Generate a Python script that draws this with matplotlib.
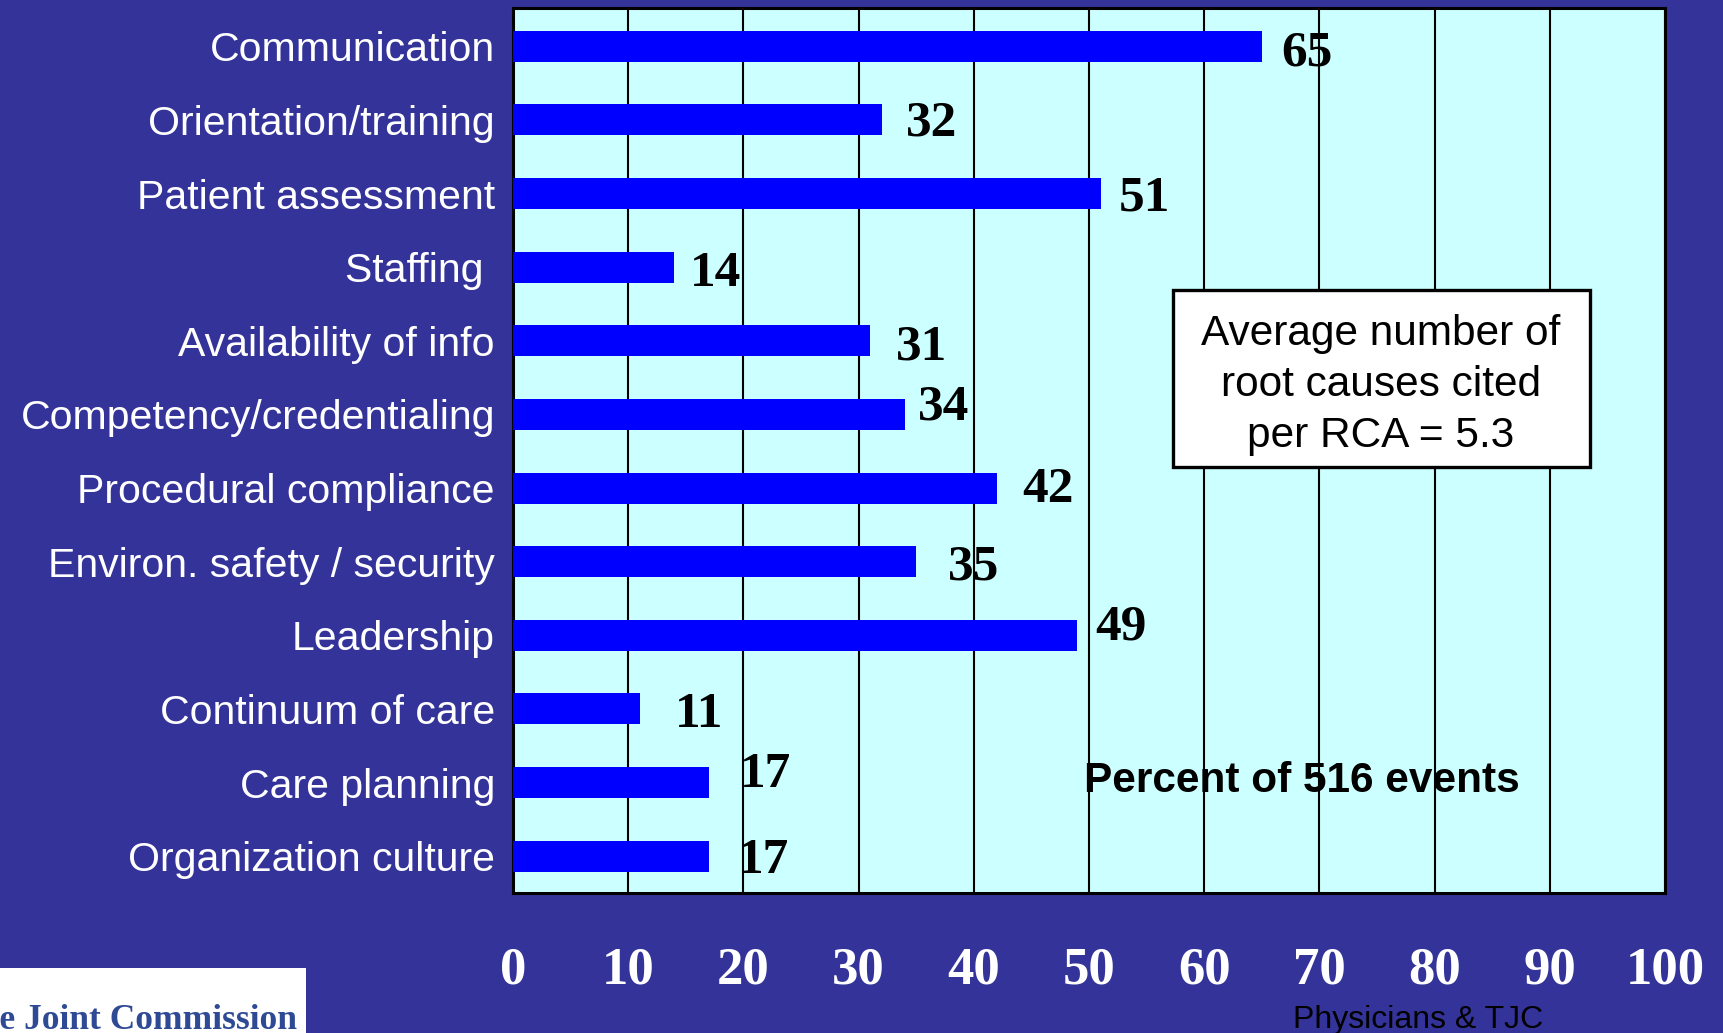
import matplotlib.pyplot as plt
from matplotlib.patches import Rectangle

# data
causes = ['Communication', 'Orientation/training', 'Patient assessment', 'Staffing ',
          'Availability of info', 'Competency/credentialing', 'Procedural compliance',
          'Environ. safety / security', 'Leadership', 'Continuum of care',
          'Care planning', 'Organization culture']
percents = [65, 32, 51, 14, 31, 34, 42, 35, 49, 11, 17, 17]
xticks = [0, 10, 20, 30, 40, 50, 60, 70, 80, 90, 100]

# little nudges of the value labels (pixels), they sit a bit irregular in the original
label_dx = [19, 24, 18, 16, 26, 13, 25, 32, 18, 35, 31, 29]
label_dy = [-7, -4, -5, -7, -7, 7, -2, -6, 8, -6, 8, -5]

bg = '#333399'
fig = plt.figure(figsize=(17.24, 10.33), dpi=100, facecolor=bg)
W, H = 1724, 1033
ax = fig.add_axes([513 / W, 1 - 893 / H, (1665 - 513) / W, (893 - 8) / H])
ax.set_facecolor('#CCFFFF')

ypos = list(range(len(causes)))
ax.barh(ypos, percents, height=0.42, color='#0000FF', zorder=3)
ax.set_xlim(0, 100)
ax.set_ylim(11.5, -0.52)

ax.set_axisbelow(True)
ax.grid(axis='x', color='black', linewidth=1.5)
ax.grid(axis='y', visible=False)
for s in ax.spines.values():
    s.set_linewidth(2.2)
    s.set_color('black')

ax.set_xticks(xticks)
ax.set_xticklabels([str(t) for t in xticks], family='Liberation Serif',
                   fontweight='bold', fontsize=38, color='white')
ax.set_yticks(ypos)
ax.set_yticklabels(causes, family='Liberation Sans', fontsize=29.5, color='white')
ax.tick_params(axis='x', length=0, pad=38.5)
ax.tick_params(axis='y', length=0, pad=13)

for y, v, dx, dy in zip(ypos, percents, label_dx, label_dy):
    ax.annotate(str(v), xy=(v, y), xytext=(dx, dy), textcoords='offset pixels',
                ha='left', va='center', family='Liberation Serif',
                fontweight='bold', fontsize=37, color='black', zorder=4)

# the info box
box = Rectangle((1173 / W, 1 - 467 / H), (1590 - 1173) / W, (467 - 290) / H,
                transform=fig.transFigure, facecolor='white', edgecolor='black',
                linewidth=2.4, zorder=5)
fig.patches.append(box)
fig.text(1381 / W, 1 - 385 / H, 'Average number of\nroot causes cited\nper RCA = 5.3',
         ha='center', va='center', family='Liberation Sans', fontsize=30.5,
         linespacing=1.36, color='black', zorder=6)

fig.text(1302 / W, 1 - 781 / H, 'Percent of 516 events', ha='center', va='center',
         family='Liberation Sans', fontweight='bold', fontsize=30.5, color='black',
         zorder=6)

fig.text(1418 / W, 1 - 1020 / H, 'Physicians & TJC', ha='center', va='center',
         family='Liberation Sans', fontsize=23, color='black')

# logo strip bottom left, cut off by the slide edge
logo = Rectangle((0, 0), 306 / W, (1033 - 968) / H, transform=fig.transFigure,
                 facecolor='white', edgecolor='none')
fig.patches.append(logo)
t = fig.text(297 / W, (1033 - 1029) / H, 'The Joint Commission', ha='right',
             va='baseline', family='Liberation Serif', fontweight='bold',
             fontsize=25.5, color='#2E4A94')
t.set_clip_path(logo)

fig.savefig('out.png', dpi=100, facecolor=bg)
